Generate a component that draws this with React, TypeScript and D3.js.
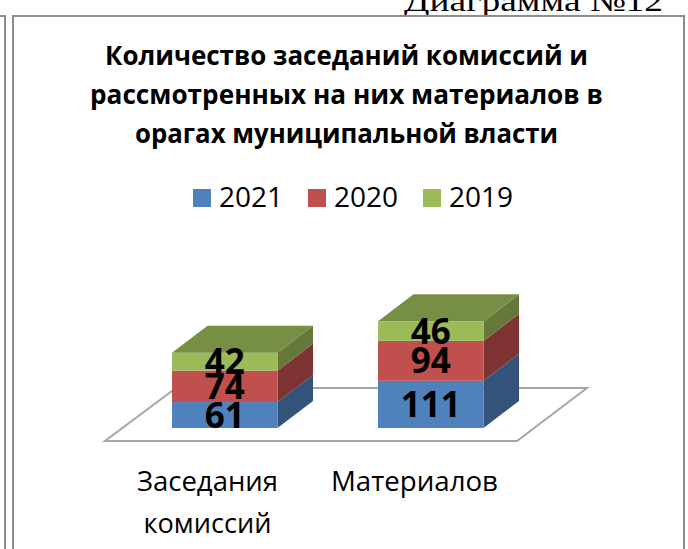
import React from "react";
import * as d3 from "d3";

const categories = ["Заседания комиссий", "Материалов"];
const categoryLines = [["Заседания", "комиссий"], ["Материалов"]];
const seriesNames = ["2021", "2020", "2019"];
const values2021 = [61, 111];
const values2020 = [74, 94];
const values2019 = [42, 46];
const seriesValues = [values2021, values2020, values2019];
const frontColors = ["#4F81BD", "#C0504D", "#9BBB59"];
const sideColors = ["#34537B", "#7C3331", "#67793A"];
const topColor = "#778F45";
const titleLines = [
  "Количество заседаний комиссий и",
  "рассмотренных на них материалов в",
  "орагах муниципальной власти",
];
const heading = "Диаграмма №12";

const W = 688;
const H = 549;
const font = "'Open Sans', 'Noto Sans', sans-serif";

export default function App() {
  const x = d3.scaleBand<string>().domain(categories).range([120.5, 535]).paddingInner(0.488).paddingOuter(0.25);
  const y = d3.scaleLinear().domain([0, 250]).range([428, 321.75]);
  const dx = 35.5;
  const dy = -27;
  const stack = d3.stack<number>().keys(seriesNames).value((i, k) => seriesValues[seriesNames.indexOf(k)][i]);
  const layers = stack(categories.map((_, i) => i));
  const floorLine = d3.line();
  const face = (pts: [number, number][]) => floorLine(pts) + "Z";
  const legendX = [193, 308, 423];
  const titleWidths = [483, 513, 423];
  const categoryWidths = [[141, 128], [167]];
  return (
    <svg width={W} height={H} viewBox={`0 0 ${W} ${H}`} style={{ position: "absolute", left: 0, top: 0, background: "#fff" }}>
      <text x={663} y={11} textAnchor="end" fontFamily="'Liberation Serif', serif" fontSize={30} textLength={259} lengthAdjust="spacingAndGlyphs">{heading}</text>
      <g fill="none" stroke="#8c8c8c" strokeWidth={2}>
        <path d="M-5 16H5V549" />
        <path d="M13 549V16H684V549" />
      </g>
      {titleLines.map((t, i) => (
        <text key={t} x={346.5} y={65 + i * 39} textAnchor="middle" fontFamily={font} fontWeight={700} fontSize={27} textLength={titleWidths[i]} lengthAdjust="spacingAndGlyphs" fill="#000">{t}</text>
      ))}
      {seriesNames.map((s, i) => (
        <g key={s}>
          <rect x={legendX[i]} y={189} width={18} height={18} fill={frontColors[i]} />
          <text x={legendX[i] + 26} y={207} fontFamily={font} fontSize={28} fill="#000">{s}</text>
        </g>
      ))}
      <path d={face([[105, 441], [517, 441], [587, 388], [176, 388]])} fill="#fff" stroke="#a6a6a6" strokeWidth={2} />
      {layers.map((layer, si) =>
        layer.map((d, ci) => {
          const x0 = x(categories[ci])!;
          const x1 = x0 + x.bandwidth();
          const y0 = y(d[0]);
          const y1 = y(d[1]);
          return (
            <g key={`${si}-${ci}`}>
              <path d={face([[x1, y0], [x1 + dx, y0 + dy], [x1 + dx, y1 + dy], [x1, y1]])} fill={sideColors[si]} />
              <rect x={x0} y={y1} width={x.bandwidth()} height={y0 - y1} fill={frontColors[si]} />
              {si === 2 && <path d={face([[x0, y1], [x0 + dx, y1 + dy], [x1 + dx, y1 + dy], [x1, y1]])} fill={topColor} />}
            </g>
          );
        })
      )}
      {layers.map((layer, si) =>
        layer.map((d, ci) => (
          <text key={`l${si}-${ci}`} x={x(categories[ci])! + x.bandwidth() / 2} y={(y(d[0]) + y(d[1])) / 2 + 12.5} textAnchor="middle" fontFamily={font} fontWeight={700} fontSize={35} fill="#000">
            {seriesValues[si][ci]}
          </text>
        ))
      )}
      {categoryLines.map((lines, ci) =>
        lines.map((t, li) => (
          <text key={t} x={[207.5, 414.5][ci]} y={491 + li * 42} textAnchor="middle" fontFamily={font} fontSize={28} textLength={categoryWidths[ci][li]} lengthAdjust="spacingAndGlyphs" fill="#000">{t}</text>
        ))
      )}
    </svg>
  );
}
